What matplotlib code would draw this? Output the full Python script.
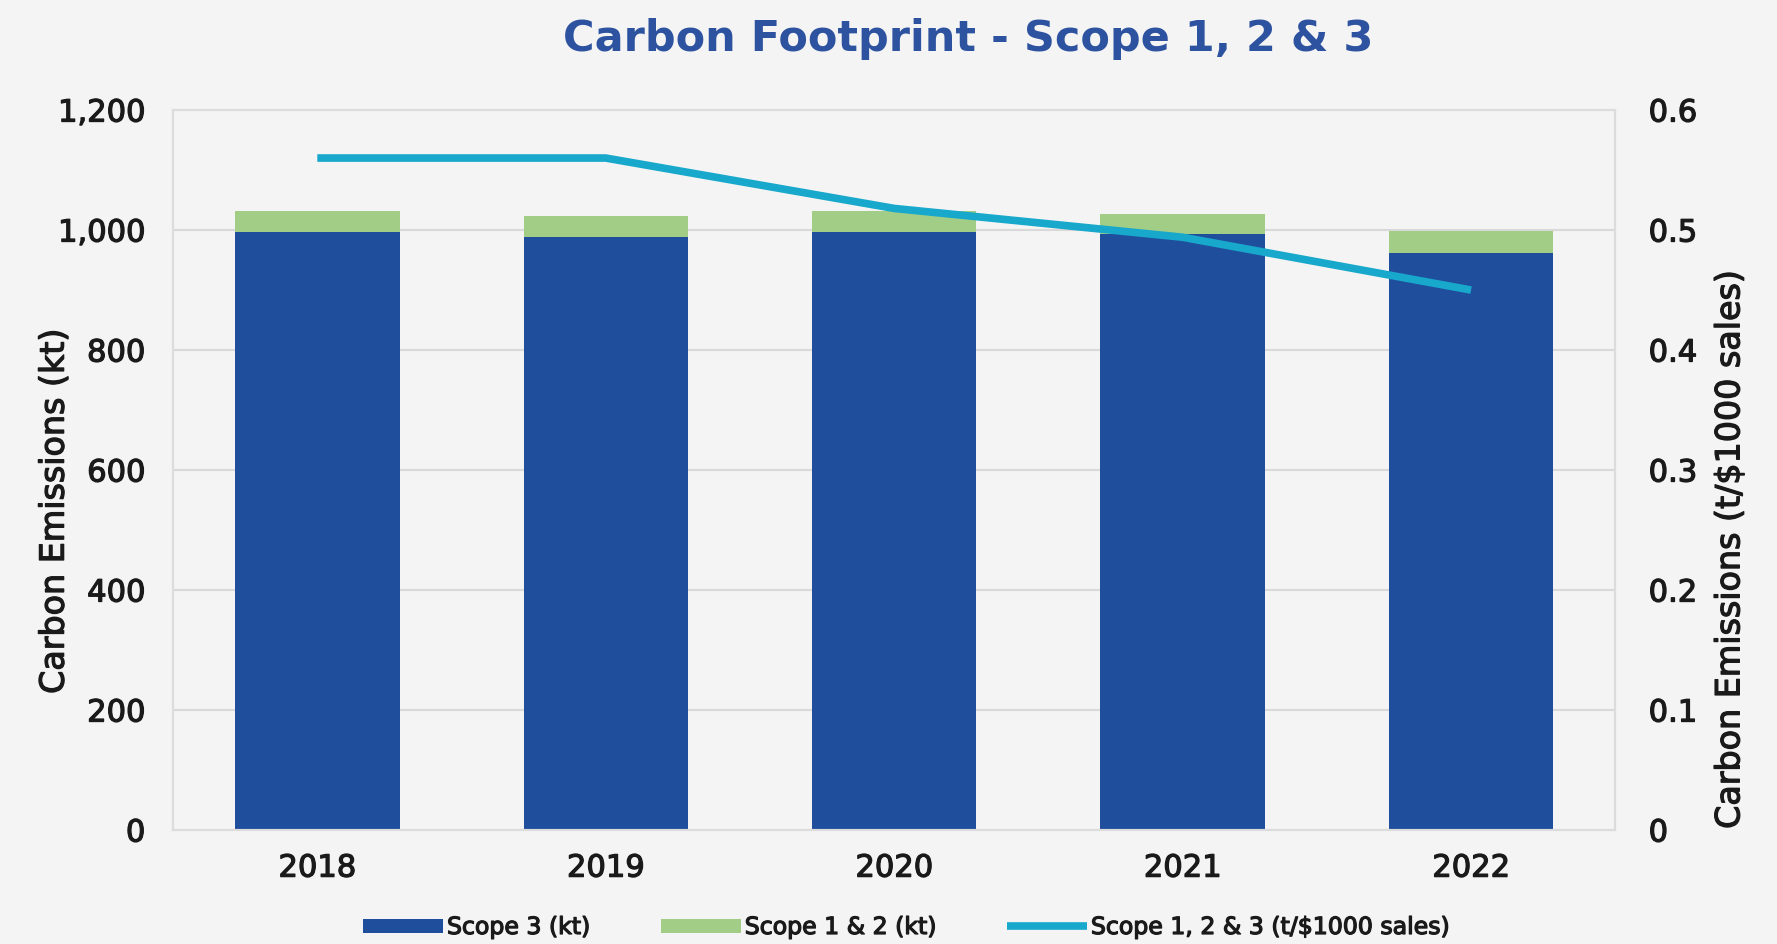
import numpy as np
import matplotlib.pyplot as plt
import matplotlib.patheffects as pe
from matplotlib.ticker import FuncFormatter

# Data
years = ['2018', '2019', '2020', '2021', '2022']
scope3_kt = [997, 988, 997, 993, 962]
scope12_kt = [35, 35, 34, 34, 36]
intensity = [0.56, 0.56, 0.518, 0.494, 0.45]

BLUE = '#1F4E9D'
GREEN = '#A2CD86'
CYAN = '#17A8CC'
TITLE_BLUE = '#2D52A0'
BG = '#F4F4F4'
TXT = '#1A1A1A'

plt.rcParams['font.family'] = ['DejaVu Sans']

# slightly heavier strokes so DejaVu looks closer to the semibold original
heavy = [pe.withStroke(linewidth=0.9, foreground=TXT)]

fig = plt.figure(figsize=(17.77, 9.45), dpi=100, facecolor=BG)
ax = fig.add_axes([0.0974, 0.1206, 0.8116, 0.7619])
ax.set_facecolor(BG)
ax2 = ax.twinx()

x = np.arange(len(years))
b1 = ax.bar(x, scope3_kt, width=0.57, color=BLUE, label='Scope 3 (kt)', zorder=2)
b2 = ax.bar(x, scope12_kt, width=0.57, bottom=scope3_kt, color=GREEN,
            label='Scope 1 & 2 (kt)', zorder=2)
ln, = ax2.plot(x, intensity, color=CYAN, lw=5.5, solid_capstyle='butt',
               label='Scope 1, 2 & 3 (t/$1000 sales)')

ax.set_xlim(-0.5, 4.5)
ax.set_ylim(0, 1200)
ax.set_yticks(range(0, 1201, 200))
ax.yaxis.set_major_formatter(FuncFormatter(lambda v, p: f'{int(v):,}'))
ax2.set_ylim(0, 0.6)
ax2.set_yticks([0, 0.1, 0.2, 0.3, 0.4, 0.5, 0.6])
ax2.yaxis.set_major_formatter(FuncFormatter(lambda v, p: '0' if v == 0 else f'{v:.1f}'))

ax.set_xticks(x)
ax.set_xticklabels(years)
ax.grid(axis='y', color='#D9D9D9', lw=1.5, zorder=0)
for a in (ax, ax2):
    for s in a.spines.values():
        s.set_color('#DCDCDC')
        s.set_linewidth(1.5)
    a.tick_params(length=0, labelsize=22, colors=TXT)
ax.tick_params(axis='x', pad=17)
ax.tick_params(axis='y', pad=20)
ax2.tick_params(axis='y', pad=24)
for lab in ax.get_xticklabels() + ax.get_yticklabels() + ax2.get_yticklabels():
    lab.set_path_effects(heavy)

ax.set_ylabel('Carbon Emissions (kt)', fontsize=24, color=TXT, path_effects=heavy)
ax2.set_ylabel('Carbon Emissions (t/$1000 sales)', fontsize=24, color=TXT, path_effects=heavy)
ax.yaxis.set_label_coords(-0.071, 0.443)
ax2.yaxis.set_label_coords(1.068, 0.39)

fig.text(0.545, 0.959, 'Carbon Footprint - Scope 1, 2 & 3', ha='center', va='center',
         fontsize=31, fontweight='bold', color=TITLE_BLUE)

leg = fig.legend(handles=[b1, b2, ln], loc='center', bbox_to_anchor=(0.51, 0.018),
                 ncol=3, frameon=False, fontsize=17, handlelength=3.4, handleheight=0.55,
                 columnspacing=3.0, handletextpad=0.15)
for t in leg.get_texts():
    t.set_color(TXT)
    t.set_path_effects(heavy)

fig.savefig('out.png', dpi=100, facecolor=BG)
